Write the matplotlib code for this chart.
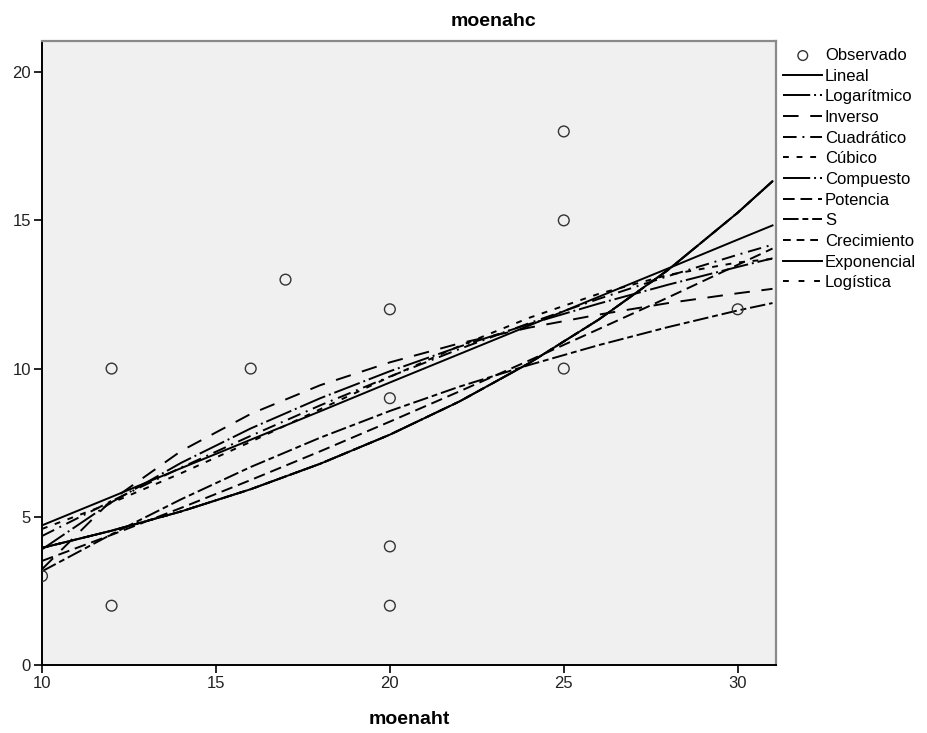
import matplotlib
matplotlib.use("Agg")
import matplotlib.pyplot as plt

plt.rcParams["font.family"] = ["Liberation Sans", "DejaVu Sans"]

# observed points
obs_x = [10, 12, 12, 16, 17, 20, 20, 20, 20, 25, 25, 25, 30]
obs_y = [3, 10, 2, 10, 13, 12, 9, 4, 2, 18, 15, 10, 12]

curve_x = [10, 12, 14, 16, 18, 20, 22, 24, 26, 28, 30, 31]
lineal = [4.71, 5.67, 6.64, 7.60, 8.56, 9.53, 10.49, 11.45, 12.42, 13.38, 14.35, 14.83]
logaritmico = [3.90, 5.49, 6.82, 7.98, 9.00, 9.91, 10.74, 11.50, 12.19, 12.83, 13.43, 13.72]
inverso = [3.23, 5.56, 7.22, 8.47, 9.44, 10.21, 10.85, 11.38, 11.82, 12.21, 12.54, 12.69]
cuadratico = [4.35, 5.53, 6.66, 7.73, 8.76, 9.73, 10.66, 11.53, 12.35, 13.12, 13.84, 14.18]
cubico = [4.59, 5.47, 6.47, 7.53, 8.63, 9.72, 10.76, 11.71, 12.52, 13.16, 13.58, 13.70]
compuesto = [3.95, 4.53, 5.18, 5.93, 6.79, 7.77, 8.89, 10.18, 11.65, 13.33, 15.26, 16.32]
potencia = [3.51, 4.39, 5.30, 6.24, 7.21, 8.21, 9.23, 10.27, 11.33, 12.40, 13.50, 14.05]
s_curve = [3.16, 4.41, 5.59, 6.68, 7.67, 8.57, 9.39, 10.12, 10.79, 11.40, 11.96, 12.21]
crecimiento = [3.95, 4.53, 5.18, 5.93, 6.79, 7.77, 8.89, 10.18, 11.65, 13.33, 15.26, 16.32]
exponencial = [3.95, 4.53, 5.18, 5.93, 6.79, 7.77, 8.89, 10.18, 11.65, 13.33, 15.26, 16.32]
logistica = [3.95, 4.53, 5.18, 5.93, 6.79, 7.77, 8.89, 10.18, 11.65, 13.33, 15.26, 16.32]

x_ticks = [10, 15, 20, 25, 30]
y_ticks = [0, 5, 10, 15, 20]

curves = [
    ("Lineal", lineal, "-"),
    ("Logarítmico", logaritmico, (0, (14, 2, 1, 2))),
    ("Inverso", inverso, (0, (8, 6))),
    ("Cuadrático", cuadratico, (0, (7, 3, 1, 3))),
    ("Cúbico", cubico, (0, (3, 4))),
    ("Compuesto", compuesto, (0, (14, 2, 1, 2))),
    ("Potencia", potencia, (0, (6, 3))),
    ("S", s_curve, (0, (8, 2, 3, 2))),
    ("Crecimiento", crecimiento, (0, (4, 3))),
    ("Exponencial", exponencial, "-"),
    ("Logística", logistica, (0, (3, 5))),
]

fig = plt.figure(figsize=(9.27, 7.33), dpi=100)
ax = fig.add_axes([0.0453, 0.0928, 0.7918, 0.8512])
ax.set_facecolor("#f0f0f0")

ax.scatter(obs_x, obs_y, s=60, facecolors="none", edgecolors="#333333",
           linewidths=1.0, label="Observado", zorder=3)
for name, values, style in curves:
    ax.plot(curve_x, values, color="black", linestyle=style, linewidth=1.4,
            label=name)

ax.set_xlim(10, 31.1)
ax.set_ylim(0, 21.05)
ax.set_xticks(x_ticks)
ax.set_yticks(y_ticks)
ax.tick_params(direction="out", length=6, width=1.2, colors="black",
               labelsize=12, labelcolor="#222222", pad=2)
for side in ["left", "bottom"]:
    ax.spines[side].set_linewidth(1.4)
    ax.spines[side].set_color("black")
for side in ["top", "right"]:
    ax.spines[side].set_linewidth(1.6)
    ax.spines[side].set_color("#8a8a8a")

ax.set_xlabel("moenaht", fontsize=14, fontweight="bold", labelpad=14)
fig.text(0.532, 0.971, "moenahc", fontsize=14, fontweight="bold",
         ha="center", va="center")

leg = ax.legend(loc="upper left", bbox_to_anchor=(1.003, 0.997), frameon=False,
                fontsize=12, handlelength=2.35, handletextpad=0.15,
                labelspacing=0.34, borderaxespad=0.0, borderpad=0.3,
                markerscale=0.9)

fig.savefig("out.png", dpi=100)
